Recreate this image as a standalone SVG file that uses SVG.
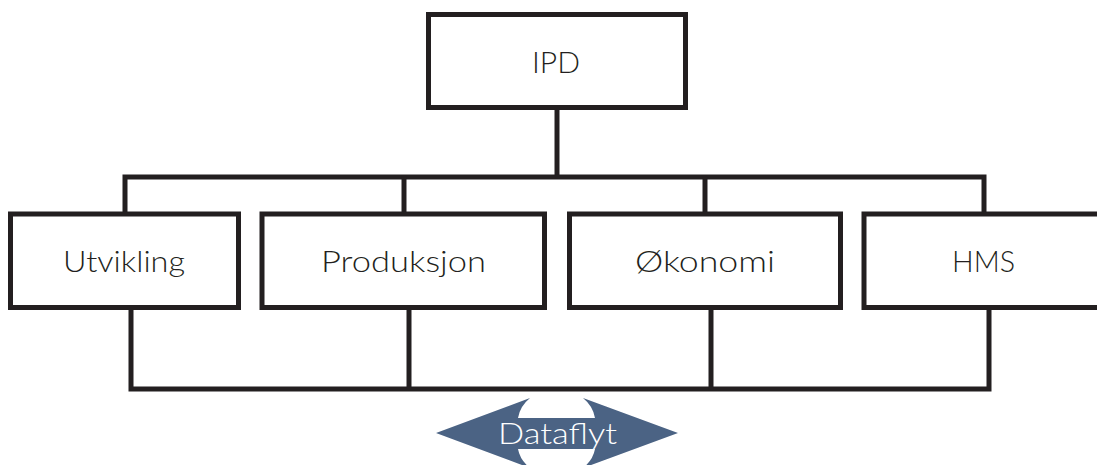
<svg xmlns="http://www.w3.org/2000/svg" width="1097" height="465" viewBox="0 0 1097 465">
  <style>
    .box { fill: #ffffff; stroke: #231f20; stroke-width: 5; }
    .lbl { font-family: "Lato", "Liberation Sans", sans-serif; font-weight: 300; font-size: 29px; fill: #231f20; text-anchor: middle; }
    .conn { fill: none; stroke: #231f20; stroke-width: 5; stroke-linejoin: miter; }
    .flow { fill: #4b6384; }
    .flowtxt { font-family: "Lato", "Liberation Sans", sans-serif; font-weight: 300; font-size: 30px; fill: #ffffff; text-anchor: middle; }
  </style>
  <rect width="1097" height="465" fill="#ffffff"/>
  <g id="connectors">
    <path class="conn" d="M557,107 V177"/>
    <path class="conn" d="M125,214 V177 H984 V214"/>
    <path class="conn" d="M404,177 V214"/>
    <path class="conn" d="M705,177 V214"/>
    <path class="conn" d="M131,307 V389 H989 V307"/>
    <path class="conn" d="M409,307 V389"/>
    <path class="conn" d="M711,307 V389"/>
  </g>
  <g id="node-ipd">
    <rect class="box" x="428.5" y="14.5" width="257" height="93"/>
    <text class="lbl" x="556" y="73" textLength="48" lengthAdjust="spacingAndGlyphs">IPD</text>
  </g>
  <g id="node-utvikling">
    <rect class="box" x="10.5" y="214" width="228" height="93.5"/>
    <text class="lbl" x="124" y="272" textLength="122" lengthAdjust="spacingAndGlyphs">Utvikling</text>
  </g>
  <g id="node-produksjon">
    <rect class="box" x="262" y="214" width="282.5" height="93.5"/>
    <text class="lbl" x="403.5" y="272" textLength="165" lengthAdjust="spacingAndGlyphs">Produksjon</text>
  </g>
  <g id="node-okonomi">
    <rect class="box" x="569.5" y="214" width="271" height="93.5"/>
    <text class="lbl" x="705" y="272" textLength="140" lengthAdjust="spacingAndGlyphs">Økonomi</text>
  </g>
  <g id="node-hms">
    <rect class="box" x="864" y="214" width="250" height="93.5"/>
    <text class="lbl" x="983.5" y="272" textLength="63" lengthAdjust="spacingAndGlyphs">HMS</text>
  </g>
  <g id="node-dataflyt">
    <path class="flow" d="M436,433 L530,398 Q520,406 518,418 L595,418 Q593,406 583,398 L678,433 L583,468 Q593,460 595,449 L518,449 Q520,460 530,468 Z"/>
    <text class="flowtxt" x="557.5" y="444" textLength="119" lengthAdjust="spacingAndGlyphs">Dataflyt</text>
  </g>
</svg>
